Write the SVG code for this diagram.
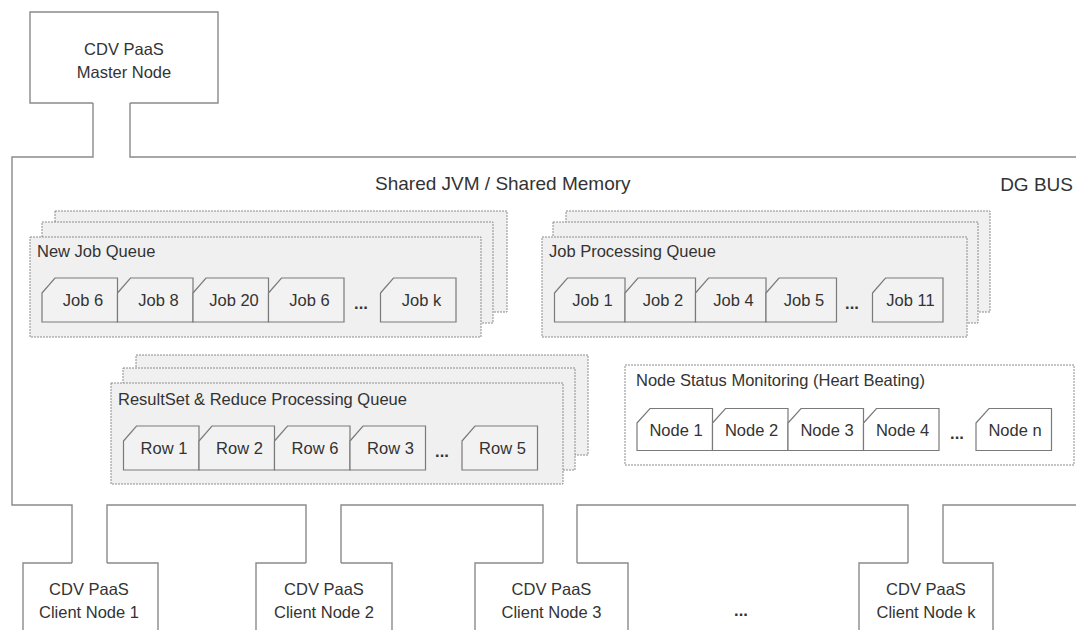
<svg xmlns="http://www.w3.org/2000/svg" width="1076" height="630" viewBox="0 0 1076 630">
<style>
text{font-family:"Liberation Sans",Arial,sans-serif;fill:#333;font-size:16.5px}
.t{text-anchor:middle}
.title{font-size:19px}
.line{fill:none;stroke:#8a8a8a;stroke-width:1.4}
.q{fill:#f0f0f0;stroke:#8c8c8c;stroke-width:1;stroke-dasharray:2 1}
.qw{fill:#fff;stroke:#8c8c8c;stroke-width:1;stroke-dasharray:2 1}
.it{fill:#f2f2f2;stroke:#7a7a7a;stroke-width:1.2}
.itw{fill:#fff;stroke:#7a7a7a;stroke-width:1.2}
.dots{font-weight:bold;text-anchor:middle}
</style>
<rect width="1076" height="630" fill="#fff"/>
<g id="connectors">
<path class="line" d="M93,103 V157 H12 V505 H72 V563"/>
<path class="line" d="M130,103 V157 H1076"/>
<path class="line" d="M107,563 V505 H306 V563"/>
<path class="line" d="M341,563 V505 H543 V563"/>
<path class="line" d="M577,563 V505 H908 V563"/>
<path class="line" d="M943,563 V505 H1076"/>
</g>
<g id="master">
<path class="line" d="M93,103 H30 V12 H218 V103 H130"/>
<text class="t" x="124" y="55">CDV PaaS</text>
<text class="t" x="124" y="78">Master Node</text>
</g>
<g id="bus-labels">
<text class="title" x="375" y="190">Shared JVM / Shared Memory</text>
<text class="title" x="1073" y="191" text-anchor="end">DG BUS</text>
</g>
<g id="new-job-queue">
<rect class="q" x="55" y="211" width="452" height="101"/>
<rect class="q" x="42" y="222" width="451" height="101"/>
<rect class="q" x="30" y="237" width="451" height="100"/>
<text x="37" y="256.5">New Job Queue</text>
<path class="it" d="M42,293 L55,278 H117.5 V322 H42 Z"/>
<path class="it" d="M117.5,293 L130.5,278 H193 V322 H117.5 Z"/>
<path class="it" d="M193,293 L206,278 H268.5 V322 H193 Z"/>
<path class="it" d="M268.5,293 L281.5,278 H344 V322 H268.5 Z"/>
<path class="it" d="M380.5,293 L393.5,278 H456 V322 H380.5 Z"/>
<text class="t" x="83" y="306">Job 6</text>
<text class="t" x="158.5" y="306">Job 8</text>
<text class="t" x="234" y="306">Job 20</text>
<text class="t" x="309.5" y="306">Job 6</text>
<text class="dots" x="361" y="309">...</text>
<text class="t" x="421.5" y="306">Job k</text>
</g>
<g id="job-processing-queue">
<rect class="q" x="566" y="211" width="424" height="101"/>
<rect class="q" x="553" y="222" width="425" height="101"/>
<rect class="q" x="542" y="237" width="425" height="100"/>
<text x="549" y="256.5">Job Processing Queue</text>
<path class="it" d="M554.5,293 L567.5,278 H625 V322 H554.5 Z"/>
<path class="it" d="M625,293 L638,278 H695.5 V322 H625 Z"/>
<path class="it" d="M695.5,293 L708.5,278 H766 V322 H695.5 Z"/>
<path class="it" d="M766,293 L779,278 H836.5 V322 H766 Z"/>
<path class="it" d="M872.5,293 L885.5,278 H943 V322 H872.5 Z"/>
<text class="t" x="592.5" y="306">Job 1</text>
<text class="t" x="663" y="306">Job 2</text>
<text class="t" x="733.5" y="306">Job 4</text>
<text class="t" x="804" y="306">Job 5</text>
<text class="dots" x="852" y="309">...</text>
<text class="t" x="910.5" y="306">Job 11</text>
</g>
<g id="resultset-queue">
<rect class="q" x="136" y="355" width="452" height="100"/>
<rect class="q" x="123" y="368" width="452" height="102"/>
<rect class="q" x="111" y="383" width="452" height="101"/>
<text x="118" y="405">ResultSet &amp; Reduce Processing Queue</text>
<path class="it" d="M123.5,441 L136.5,426 H199 V470 H123.5 Z"/>
<path class="it" d="M199,441 L212,426 H274.5 V470 H199 Z"/>
<path class="it" d="M274.5,441 L287.5,426 H350 V470 H274.5 Z"/>
<path class="it" d="M350,441 L363,426 H425.5 V470 H350 Z"/>
<path class="it" d="M462,441 L475,426 H537.5 V470 H462 Z"/>
<text class="t" x="164" y="454">Row 1</text>
<text class="t" x="239.5" y="454">Row 2</text>
<text class="t" x="315" y="454">Row 6</text>
<text class="t" x="390.5" y="454">Row 3</text>
<text class="dots" x="442" y="457">...</text>
<text class="t" x="502.5" y="454">Row 5</text>
</g>
<g id="node-status">
<rect class="qw" x="625" y="365" width="449" height="100"/>
<text x="636" y="386">Node Status Monitoring (Heart Beating)</text>
<path class="itw" d="M637,423 L650,408.5 H712.5 V450.5 H637 Z"/>
<path class="itw" d="M712.5,423 L725.5,408.5 H788 V450.5 H712.5 Z"/>
<path class="itw" d="M788,423 L801,408.5 H863.5 V450.5 H788 Z"/>
<path class="itw" d="M863.5,423 L876.5,408.5 H939 V450.5 H863.5 Z"/>
<path class="itw" d="M976,423 L989,408.5 H1051.5 V450.5 H976 Z"/>
<text class="t" x="676" y="435.5">Node 1</text>
<text class="t" x="751.5" y="435.5">Node 2</text>
<text class="t" x="827" y="435.5">Node 3</text>
<text class="t" x="902.5" y="435.5">Node 4</text>
<text class="dots" x="957" y="439">...</text>
<text class="t" x="1015" y="435.5">Node n</text>
</g>
<g id="client1">
<path class="line" d="M72,563 H23 V632 M107,563 H158 V632"/>
<text class="t" x="89" y="595">CDV PaaS</text>
<text class="t" x="89" y="618">Client Node 1</text>
</g>
<g id="client2">
<path class="line" d="M306,563 H256 V632 M341,563 H392 V632"/>
<text class="t" x="324" y="595">CDV PaaS</text>
<text class="t" x="324" y="618">Client Node 2</text>
</g>
<g id="client3">
<path class="line" d="M543,563 H475 V632 M577,563 H628 V632"/>
<text class="t" x="551.5" y="595">CDV PaaS</text>
<text class="t" x="551.5" y="618">Client Node 3</text>
</g>
<text class="dots" x="741" y="616">...</text>
<g id="clientk">
<path class="line" d="M908,563 H859 V632 M943,563 H993 V632"/>
<text class="t" x="926" y="595">CDV PaaS</text>
<text class="t" x="926" y="618">Client Node k</text>
</g>
</svg>
